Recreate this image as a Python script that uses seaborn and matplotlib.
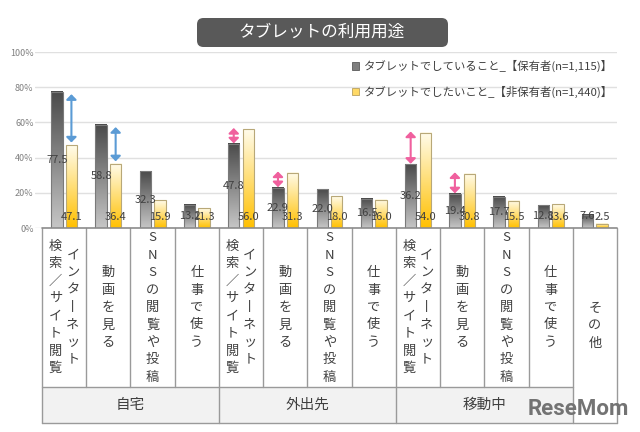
import numpy as np
import pandas as pd
import matplotlib
matplotlib.use('Agg')
import matplotlib.pyplot as plt
import seaborn as sns
from matplotlib.colors import LinearSegmentedColormap
from matplotlib.patches import Patch, FancyBboxPatch, Rectangle

# data
uses = ['インターネット検索／サイト閲覧', '動画を見る', 'SNSの閲覧や投稿', '仕事で使う']
places = ['自宅', '外出先', '移動中']
other = 'その他'
own = [77.5, 58.8, 32.3, 13.2, 47.8, 22.9, 22.0, 16.5, 36.2, 19.4, 17.7, 12.8, 7.6]
want = [47.1, 36.4, 15.9, 11.3, 56.0, 31.3, 18.0, 16.0, 54.0, 30.8, 15.5, 13.6, 2.5]
series_names = ['タブレットでしていること_【保有者(n=1,115)】',
                'タブレットでしたいこと_【非保有者(n=1,440)】']
# vertical label columns, right column first
use_columns = [['インターネット', '検索／サイト閲覧'], ['動画を見る'], ['SNSの閲覧や投稿'], ['仕事で使う']]
blue_idx = [0, 1]
pink_idx = [4, 5, 8, 9]

n = len(own)
df = pd.DataFrame({
    'pos': list(range(n)) * 2,
    'value': own + want,
    'series': [series_names[0]] * n + [series_names[1]] * n,
})

sns.set_theme(style='white')
plt.rcParams['font.family'] = ['Noto Sans CJK JP', 'DejaVu Sans']

fig = plt.figure(figsize=(6.4, 4.32), dpi=100)
ax = fig.add_axes([35 / 640, 1 - 228 / 432, 582 / 640, 176 / 432])

sns.barplot(data=df, x='pos', y='value', hue='series', palette=['#808080', '#ffd966'],
            width=0.66, gap=0.22, ax=ax, legend=False)

xl = (-0.5 - 7 / 44.23, 12.5)
cmaps = [LinearSegmentedColormap.from_list('g', ['#c6c6c6', '#4a4a4a']),
         LinearSegmentedColormap.from_list('y', ['#ffc000', '#fffcec'])]
edges = ['#7a7a7a', '#b8a878']
grad = np.linspace(0, 1, 256).reshape(-1, 1)
centers = [[], []]
for k, cont in enumerate(ax.containers):
    for p in cont.patches:
        x0, y0 = p.get_x(), p.get_y()
        w, h = p.get_width(), p.get_height()
        ax.imshow(grad, extent=[x0, x0 + w, y0, y0 + h], origin='lower', aspect='auto',
                  cmap=cmaps[k], zorder=2)
        p.set_facecolor('none')
        p.set_edgecolor(edges[k])
        p.set_linewidth(0.8)
        p.set_zorder(3)
        centers[k].append(x0 + w / 2)

# value labels
for i in range(n):
    ax.text(centers[0][i], max(own[i] / 2, 6.6), f'{own[i]:.1f}', ha='center', va='center',
            fontsize=8, color='#404040', zorder=5)
    ax.text(centers[1][i], 6.4, f'{want[i]:.1f}', ha='center', va='center',
            fontsize=8, color='#404040', zorder=5)

# difference arrows
arrow_kw = dict(arrowstyle='<|-|>,head_length=0.3,head_width=0.3', lw=1.5,
                mutation_scale=10, shrinkA=0, shrinkB=0)
for i in blue_idx:
    ax.annotate('', xy=(centers[1][i], own[i] - 1.5), xytext=(centers[1][i], want[i] + 1.5),
                arrowprops=dict(color='#5b9bd5', **arrow_kw), zorder=6)
for i in pink_idx:
    ax.annotate('', xy=(centers[0][i], want[i] + 0.8), xytext=(centers[0][i], own[i] + 0.3),
                arrowprops=dict(color='#f0609e', **arrow_kw), zorder=6)

ax.set_xlim(*xl)
ax.set_ylim(0, 100)
ax.set_yticks(range(0, 101, 20))
ax.set_yticklabels([f'{t}%' for t in range(0, 101, 20)], fontsize=6.5, color='#808080')
ax.tick_params(axis='y', length=0, pad=1)
ax.set_xticks([])
ax.set_xlabel('')
ax.set_ylabel('')
for s in ax.spines.values():
    s.set_visible(False)
ax.grid(axis='y', color='#e0e0e0', lw=1)
ax.set_axisbelow(True)

# category table under the axes
tr = ax.get_xaxis_transform()
lc = '#9a9a9a'
y_cell = -159 / 176
y_bot = -195 / 176
ax.add_patch(Rectangle((-0.5, y_bot), 12, y_cell - y_bot, transform=tr, clip_on=False,
                       facecolor='#f2f2f2', edgecolor='none', zorder=1))
ax.plot([-0.5, 12.5], [0, 0], transform=tr, clip_on=False, color='#8c8c8c', lw=1.2, zorder=4)
ax.plot([-0.5, 12.5], [y_bot, y_bot], transform=tr, clip_on=False, color=lc, lw=1)
ax.plot([-0.5, 11.5], [y_cell, y_cell], transform=tr, clip_on=False, color=lc, lw=1)
for i in range(14):
    bottom = y_bot if i % 4 == 0 or i == 13 else y_cell
    ax.plot([i - 0.5, i - 0.5], [0, bottom], transform=tr, clip_on=False, color=lc, lw=1)

pitch = 17.4 / 176


def vtext(x, yc, s):
    m = len(s)
    for j, ch in enumerate(s.replace('ー', '丨')):
        ax.text(x, yc + ((m - 1) / 2 - j) * pitch, ch, transform=tr, ha='center', va='center',
                fontsize=9.5, color='#404040', clip_on=False)


for g, place in enumerate(places):
    for u, cols in enumerate(use_columns):
        col = g * 4 + u
        if len(cols) == 2:
            vtext(col + 0.2, y_cell / 2, cols[0])
            vtext(col - 0.2, y_cell / 2, cols[1])
        else:
            vtext(col, y_cell / 2, cols[0])
    ax.text(g * 4 + 1.5, (y_cell + y_bot) / 2, place, transform=tr, ha='center', va='center',
            fontsize=10.5, color='#404040', clip_on=False)
vtext(12, y_bot / 2, other)

# legend
handles = [Patch(facecolor='#7f7f7f', edgecolor='#5a5a5a', lw=0.6),
           Patch(facecolor='#ffd966', edgecolor='#b8a060', lw=0.6)]
ax.legend(handles, series_names, loc='upper left', bbox_to_anchor=(0.545, 0.955), frameon=False,
          fontsize=8.2, handlelength=0.6, handleheight=0.6, handletextpad=0.4,
          labelspacing=1.2, borderpad=0, borderaxespad=0, labelcolor='#404040')

# title box
fig.patches.append(FancyBboxPatch((197 / 640, 1 - 47 / 432), 251 / 640, 29 / 432,
                                  boxstyle='round,pad=0,rounding_size=0.01',
                                  mutation_aspect=640 / 432, transform=fig.transFigure,
                                  facecolor='#595959', edgecolor='none'))
fig.text(322 / 640, 1 - 32.5 / 432, 'タブレットの利用用途', ha='center', va='center',
         fontsize=12, color='white')

# watermark
fig.text(578 / 640, 1 - 409 / 432, 'ReseMom', ha='center', va='center', fontsize=16,
         fontweight='bold', family='Roboto', color='#737373')

fig.savefig('out.png', dpi=100)
